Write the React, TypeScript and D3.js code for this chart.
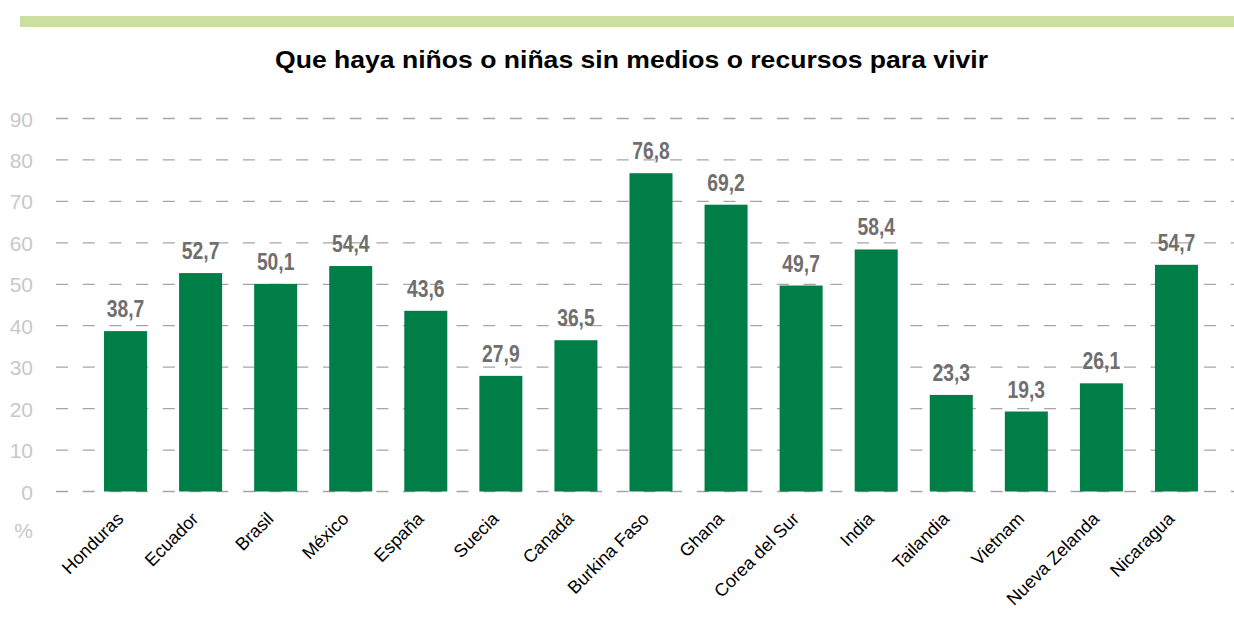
import React from "react";
import * as d3 from "d3";

const categories = [
  "Honduras", "Ecuador", "Brasil", "México", "España", "Suecia", "Canadá",
  "Burkina Faso", "Ghana", "Corea del Sur", "India", "Tailandia", "Vietnam",
  "Nueva Zelanda", "Nicaragua",
];
const values = [38.7, 52.7, 50.1, 54.4, 43.6, 27.9, 36.5, 76.8, 69.2, 49.7, 58.4, 23.3, 19.3, 26.1, 54.7];
const yTicks = [0, 10, 20, 30, 40, 50, 60, 70, 80, 90];
const title = "Que haya niños o niñas sin medios o recursos para vivir";

const W = 1234;
const H = 617;

export default function App() {
  const x = d3.scaleBand<string>().domain(categories).range([88, 1214]).paddingInner(0.427).paddingOuter(0.2135);
  const y = d3.scaleLinear().domain([0, 90]).range([491.5, 118.5]);
  const fmt = (v: number) => v.toFixed(1).replace(".", ",");
  const sans = "'Liberation Sans', Arial, sans-serif";
  return (
    <svg width={W} height={H} style={{ position: "absolute", left: 0, top: 0, background: "#fff" }}>
      <rect x={20} y={16} width={W - 20} height={11} fill="#cddf9e" />
      <text x={275} y={68} textLength={713} lengthAdjust="spacingAndGlyphs" fontFamily={sans} fontWeight="bold" fontSize={24} fill="#000">
        {title}
      </text>
      {yTicks.map((t) => (
        <g key={t}>
          <line x1={56} x2={W} y1={y(t)} y2={y(t)} stroke="#aaa3a3" strokeWidth={1.3} strokeDasharray="12 14.7" />
          <text x={33} y={y(t) + 8} textAnchor="end" fontFamily={sans} fontSize={21} fill="#c8c8c8">
            {t}
          </text>
        </g>
      ))}
      <text x={33} y={538} textAnchor="end" fontFamily={sans} fontSize={21} fill="#c8c8c8">%</text>
      {categories.map((c, i) => {
        const bx = x(c)!;
        const bw = x.bandwidth();
        const cx = bx + bw / 2;
        return (
          <g key={c}>
            <rect x={bx} y={y(values[i])} width={bw} height={y(0) - y(values[i])} fill="#007e47" />
            <text
              transform={`translate(${cx},${y(values[i]) - 14}) scale(0.84,1)`}
              textAnchor="middle"
              fontFamily={sans}
              fontWeight="bold"
              fontSize={23}
              fill="#6f6f6f"
            >
              {fmt(values[i])}
            </text>
            <text
              transform={`translate(${cx - 1},${520}) rotate(-45)`}
              textAnchor="end"
              fontFamily={sans}
              fontSize={18}
              fill="#000"
            >
              {c}
            </text>
          </g>
        );
      })}
    </svg>
  );
}
